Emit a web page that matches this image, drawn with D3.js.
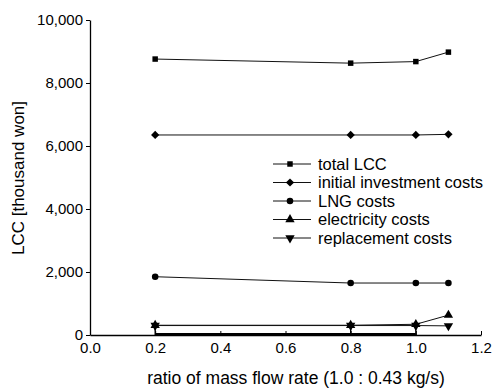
<!DOCTYPE html>
<html>
<head>
<meta charset="utf-8">
<script src="https://cdn.jsdelivr.net/npm/d3@7"></script>
<style>
  body { margin: 0; background: #fff; }
  text { font-family: "Liberation Sans", Arial, sans-serif; fill: #000; }
</style>
</head>
<body>
<div id="chart"></div>
<script>
// values
let ratios = [0.2, 0.8, 1.0, 1.1]
let seriesNames = ["total LCC", "initial investment costs", "LNG costs", "electricity costs", "replacement costs"]
let totalLCC = [8760, 8630, 8680, 8980]
let initialCosts = [6350, 6350, 6350, 6370]
let lngCosts = [1850, 1650, 1650, 1650]
let electricityCosts = [310, 310, 340, 630]
let replacementCosts = [300, 300, 300, 290]
let dropRatios = [0.2, 0.8, 1.0]
let dropValues = [310, 310, 340]
let xTicks = [0.0, 0.2, 0.4, 0.6, 0.8, 1.0, 1.2]
let yTicks = [0, 2000, 4000, 6000, 8000, 10000]
let symbols = ["square", "diamond", "circle", "up", "down"]

let margin = {top: 20, left: 90, right: 12, bottom: 56}

let svg = d3.select("#chart").append("svg")
    .attr("width", 493)
    .attr("height", 391)

let g = svg.append("g").attr("transform", "translate(" + margin.left + "," + margin.top + ")")

let x = d3.scaleLinear().domain([0, 1.2]).range([0, 391])
let y = d3.scaleLinear().domain([0, 10000]).range([315, 0])

// y axis
let yAxis = g.append("g")
    .call(d3.axisLeft(y).tickValues(yTicks).tickSize(4).tickSizeOuter(0).tickFormat(d3.format(",")))
yAxis.select(".domain").attr("stroke-width", 1.3)
yAxis.selectAll("text").style("font-size", "15px").attr("x", -7)

// x axis, ticks pointing inside
let xAxis = g.append("g")
    .attr("transform", "translate(0," + y(0) + ")")
    .call(d3.axisBottom(x).tickValues(xTicks).tickSize(-4).tickSizeOuter(0).tickFormat(d3.format(".1f")))
xAxis.select(".domain").attr("stroke-width", 1.3)
xAxis.selectAll("text").style("font-size", "15px").attr("y", 7).attr("dy", "0.71em")

let columns = [totalLCC, initialCosts, lngCosts, electricityCosts, replacementCosts].map(function(vals, i) {
    return {
        id: seriesNames[i],
        sym: symbols[i],
        values: ratios.map(function(r, j) { return {ratio: r, amount: vals[j]} })
    }
})

let line = d3.line()
    .x(function(d) { return x(d.ratio) })
    .y(function(d) { return y(d.amount) })

function symbolPath(sym) {
    if (sym == "square") return d3.symbol().type(d3.symbolSquare).size(30)()
    if (sym == "diamond") return d3.symbol().type(d3.symbolSquare).size(34)()
    if (sym == "circle") return d3.symbol().type(d3.symbolCircle).size(34)()
    return d3.symbol().type(d3.symbolTriangle).size(38)()
}
function symbolRot(sym) {
    if (sym == "diamond") return " rotate(45)"
    if (sym == "down") return " rotate(180)"
    return ""
}

// drop lines and thick baseline
g.selectAll(".drop")
    .data(dropRatios)
    .enter().append("line")
    .attr("x1", function(d) { return x(d) })
    .attr("x2", function(d) { return x(d) })
    .attr("y1", function(d, i) { return y(dropValues[i]) })
    .attr("y2", y(0))
    .attr("stroke", "#000")
    .attr("stroke-width", 1.3)

g.append("line")
    .attr("x1", x(dropRatios[0]))
    .attr("x2", x(dropRatios[dropRatios.length - 1]))
    .attr("y1", y(0) - 1)
    .attr("y2", y(0) - 1)
    .attr("stroke", "#000")
    .attr("stroke-width", 2)

let column = g.selectAll(".series")
    .data(columns)
    .enter().append("g")
    .attr("class", "series")

column.append("path")
    .attr("d", function(d) { return line(d.values) })
    .attr("fill", "none")
    .attr("stroke", "#111")
    .attr("stroke-width", 1)

column.selectAll(".pt")
    .data(function(d) { return d.values.map(function(v) { return {v: v, sym: d.sym} }) })
    .enter().append("path")
    .attr("class", "pt")
    .attr("d", function(d) { return symbolPath(d.sym) })
    .attr("transform", function(d) {
        return "translate(" + x(d.v.ratio) + "," + y(d.v.amount) + ")" + symbolRot(d.sym)
    })
    .attr("fill", "#000")

// legend
let legend = svg.selectAll(".legend")
    .data(columns)
    .enter().append("g")
    .attr("class", "legend")
    .attr("transform", function(d, i) { return "translate(273," + (164 + i * 18.5) + ")" })

legend.append("line")
    .attr("x1", 0).attr("x2", 38)
    .attr("stroke", "#111").attr("stroke-width", 1)

legend.append("path")
    .attr("d", function(d) { return symbolPath(d.sym) })
    .attr("transform", function(d) { return "translate(17,0)" + symbolRot(d.sym) })
    .attr("fill", "#000")

legend.append("text")
    .attr("x", 45)
    .attr("dy", "0.35em")
    .style("font-size", "16.5px")
    .text(function(d) { return d.id })

// axis labels
svg.append("text")
    .attr("transform", "translate(24," + (margin.top + 158) + ") rotate(-90)")
    .attr("text-anchor", "middle")
    .style("font-size", "17px")
    .text("LCC [thousand won]")

svg.append("text")
    .attr("x", 296)
    .attr("y", 384)
    .attr("text-anchor", "middle")
    .style("font-size", "17.5px")
    .text("ratio of mass flow rate (1.0 : 0.43 kg/s)")
</script>
</body>
</html>
